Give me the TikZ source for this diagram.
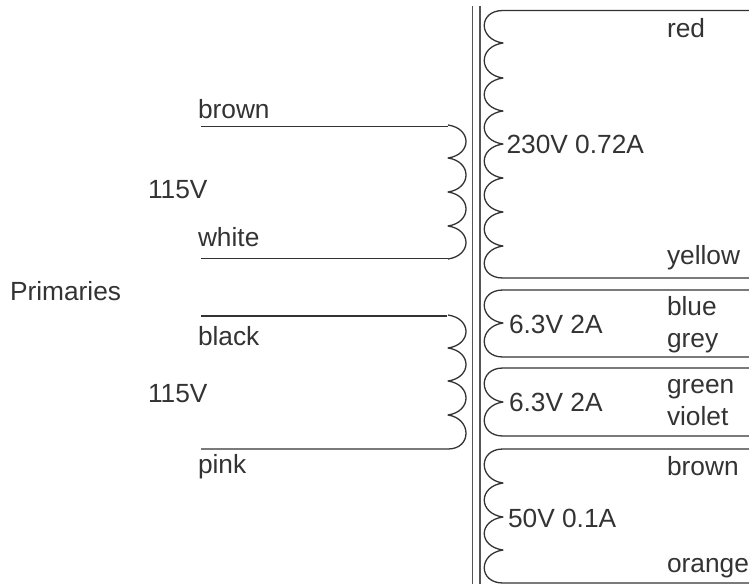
\documentclass[tikz,border=0pt]{standalone}
\usepackage{fontspec}
\setmainfont{Liberation Sans}
\definecolor{ink}{HTML}{333333}
\definecolor{coreink}{HTML}{555555}
\tikzset{
  lbl/.style={anchor=base west,inner sep=0pt,outer sep=0pt,text=ink,font=\fontsize{26.3}{30}\selectfont},
  wire/.style={draw=ink,line width=1.3pt,line join=round},
  corewire/.style={draw=coreink,line width=1.5pt}
}
% one primary arc: bulges to the right, tips slanted
\newcommand{\primarc}[2]{.. controls (472,{#1+3.5}) and (472,{#2-3.5}) .. (448,#2)}
% one secondary arc: bulges to the left, tips slanted
\newcommand{\secarc}[2]{.. controls (478,{#1+3.5}) and (478,{#2-3.5}) .. (503,#2)}
% first and last arc of a secondary: run smoothly out of the horizontal lead
\newcommand{\secfirst}[2]{.. controls (478,#1) and (478,{#2-3.5}) .. (503,#2)}
\newcommand{\seclast}[2]{.. controls (478,{#1+3.5}) and (478,#2) .. (503,#2)}
\begin{document}
\begin{tikzpicture}[x=1pt,y=-1pt]
\useasboundingbox (0,0) rectangle (749,584);
% core
\coordinate (coreAtop) at (472.7,6);
\coordinate (coreAbot) at (472.7,584);
\coordinate (coreBtop) at (480,6);
\coordinate (coreBbot) at (480,584);
\draw[corewire] (coreAtop) -- (coreAbot);
\draw[corewire] (coreBtop) -- (coreBbot);
% primaries
\draw[wire] (201,126.5) -- (448,126.5);
\draw[wire] (448,125) \primarc{125}{158} \primarc{158}{192} \primarc{192}{226} \primarc{226}{259};
\draw[wire] (201,258.5) -- (448,258.5);
\draw[wire] (201,316) -- (447,316);
\draw[wire] (448,315) \primarc{315}{348} \primarc{348}{381} \primarc{381}{415} .. controls (472,418.5) and (472,449) .. (448,449) -- (201,449);
% secondaries
\draw[wire] (749,10.5) -- (503,10.5) \secfirst{10.5}{43} \secarc{43}{78} \secarc{78}{111} \secarc{111}{144} \secarc{144}{178} \secarc{178}{212} \secarc{212}{246} \seclast{246}{278} -- (749,278);
\draw[wire] (749,290) -- (503,290) \secfirst{290}{323} \seclast{323}{357} -- (749,357);
\draw[wire] (749,368) -- (503,368) \secfirst{368}{402} \seclast{402}{436} -- (749,436);
\draw[wire] (749,449) -- (503,449) \secfirst{449}{483} \secarc{483}{517} \secarc{517}{550} \seclast{550}{583} -- (749,583);
% labels
\node[lbl] (lbrownp) at (198,118) {brown};
\node[lbl] (lvA) at (148,198) {115V};
\node[lbl] (lwhite) at (198,246) {white};
\node[lbl] (lprim) at (10,300) {Primaries};
\node[lbl] (lblack) at (198,345) {black};
\node[lbl] (lvB) at (148,402) {115V};
\node[lbl] (lpink) at (198,473) {pink};
\node[lbl] (lred) at (667,37) {red};
\node[lbl] (lhv) at (506.5,153) {230V 0.72A};
\node[lbl] (lyellow) at (667,264) {yellow};
\node[lbl] (lblue) at (667,315) {blue};
\node[lbl] (lgrey) at (667,347) {grey};
\node[lbl] (lhA) at (509,333) {6.3V 2A};
\node[lbl] (lgreen) at (667,393) {green};
\node[lbl] (lviolet) at (667,425) {violet};
\node[lbl] (lhB) at (509,411) {6.3V 2A};
\node[lbl] (lbrowns) at (667,475) {brown};
\node[lbl] (lbias) at (508,527) {50V 0.1A};
\node[lbl] (lorange) at (667,572) {orange};
\end{tikzpicture}
\end{document}
